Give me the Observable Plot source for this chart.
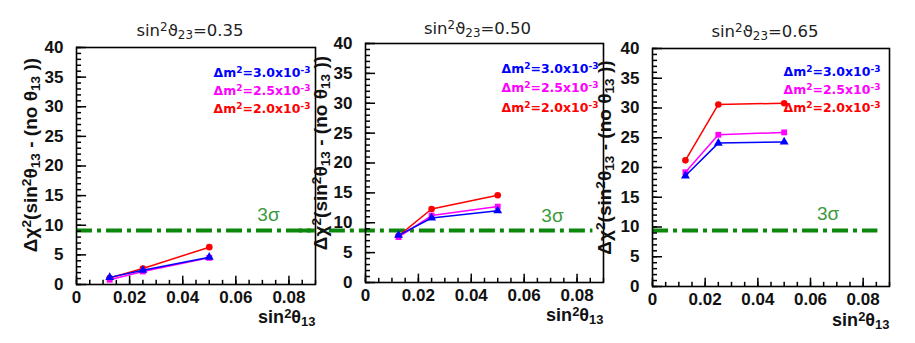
<!DOCTYPE html>
<html><head><meta charset="utf-8">
<script src="https://cdn.jsdelivr.net/npm/d3@7"></script>
<script src="https://cdn.jsdelivr.net/npm/@observablehq/plot@0.6"></script>
<style>
body{margin:0;background:#fff;}
#chart{position:relative;width:915px;height:343px;overflow:hidden;background:#fff;}
#chart > svg{position:absolute;top:0;}
</style></head><body><div id="chart"></div>
<script>
// ---- data ----
const sin2theta13 = [0.0125, 0.025, 0.05];
const panelTitles = ["sin²ϑ₂₃=0.35", "sin²ϑ₂₃=0.50", "sin²ϑ₂₃=0.65"];
const dm2Labels = ["Δm²=3.0x10⁻³", "Δm²=2.5x10⁻³", "Δm²=2.0x10⁻³"];
const chi2_035_dm30 = [1.2, 2.4, 4.6];
const chi2_035_dm25 = [0.8, 2.2, 4.5];
const chi2_035_dm20 = [1.1, 2.7, 6.3];
const chi2_050_dm30 = [7.9, 10.8, 12.0];
const chi2_050_dm25 = [7.6, 11.2, 12.7];
const chi2_050_dm20 = [7.8, 12.3, 14.6];
const chi2_065_dm30 = [18.6, 24.1, 24.3];
const chi2_065_dm25 = [19.2, 25.5, 25.9];
const chi2_065_dm20 = [21.2, 30.6, 30.8];
const threeSigmaLevel = [9.1, 8.7, 9.4];
const threeSigmaLabel = "3σ";
const xTicks = [0, 0.02, 0.04, 0.06, 0.08];
const xTickLabels = ["0", "0.02", "0.04", "0.06", "0.08"];
const yTicks = [0, 5, 10, 15, 20, 25, 30, 35, 40];
const yTickLabels = ["0", "5", "10", "15", "20", "25", "30", "35", "40"];
const xAxisTitle = "sin²θ₁₃";
const yAxisTitle = "Δχ²(sin²θ₁₃ - (no θ₁₃ ))";

// ---- styles / layout ----
const seriesColors = ["#0000ff", "#ff00ff", "#ff0000"];
const seriesSymbols = ["triangle", "square", "circle"];
const green = "#0b870b";
const xMinor = d3.range(0, 0.0901, 0.005);
const yMinor = d3.range(0, 40.01, 1);
const xDomain = [0, 0.09], yDomain = [0, 40];
const H = 343;

const panels = [
  {series: [chi2_035_dm30, chi2_035_dm25, chi2_035_dm20], left: 0, width: 330, mL: 76, mR: 15, mT: 47, mB: 59,
   tDx: -6, tDy: -17, yDx: -46, yDy: -11, lDx: -5, lDy: [25, 43, 61], xDy: 33,
   sx1: 0, sx2: 0.09, sTx: 0.0723, sTy: 11.8},
  {series: [chi2_050_dm30, chi2_050_dm25, chi2_050_dm20], left: 290, width: 330, mL: 75, mR: 17, mT: 43, mB: 61,
   tDx: -7, tDy: -15, yDx: -45, yDy: -10, lDx: -5, lDy: [25, 44, 64], xDy: 33,
   sx1: -0.025, sx2: 0.086, sTx: 0.0707, sTy: 11.2},
  {series: [chi2_065_dm30, chi2_065_dm25, chi2_065_dm20], left: 580, width: 335, mL: 72, mR: 26, mT: 48, mB: 57,
   tDx: -6, tDy: -17, yDx: -48, yDy: -10, lDx: -9, lDy: [23, 41, 59], xDy: 34,
   sx1: 0, sx2: 0.0856, sTx: 0.0667, sTy: 12.2}
];

// turn Unicode super/subscripts into real tspans (text stays text)
const supMap = {"²": "2", "³": "3", "⁻": "-"};
const subMap = {"₁": "1", "₂": "2", "₃": "3"};
function richify(el) {
  const s = el.textContent;
  if (![...s].some(c => c in supMap || c in subMap)) return;
  const runs = [];
  for (const c of s) {
    const k = c in supMap ? "sup" : c in subMap ? "sub" : "n";
    const ch = supMap[c] ?? subMap[c] ?? c;
    if (runs.length && runs[runs.length - 1].k === k) runs[runs.length - 1].t += ch;
    else runs.push({k, t: ch});
  }
  while (el.firstChild) el.removeChild(el.firstChild);
  runs.forEach(r => {
    const ts = document.createElementNS("http://www.w3.org/2000/svg", "tspan");
    ts.textContent = r.t;
    if (r.k !== "n") {
      ts.setAttribute("font-size", "72%");
      ts.setAttribute("baseline-shift", r.k === "sup" ? "40%" : "-22%");
    }
    el.appendChild(ts);
  });
}

const chart = document.getElementById("chart");
panels.forEach((p, pi) => {
  const marks = [];
  // 3 sigma line + label
  marks.push(Plot.ruleY([threeSigmaLevel[pi]], {y: d => d, x1: () => p.sx1, x2: () => p.sx2,
    stroke: green, strokeWidth: 4, strokeDasharray: "16,5,4,5"}));
  marks.push(Plot.text([threeSigmaLabel], {x: () => p.sTx, y: () => p.sTy, text: d => d, fill: "#3c9a3c",
    fontSize: 19, fontWeight: "normal", fontFamily: "Liberation Sans, Arial, sans-serif"}));
  // series: draw red, magenta, blue (blue on top)
  [2, 1, 0].forEach(si => {
    const rows = sin2theta13.map((x, i) => ({x, y: p.series[si][i]}));
    marks.push(Plot.line(rows, {x: "x", y: "y", stroke: seriesColors[si], strokeWidth: 1.5}));
    marks.push(Plot.dot(rows, {x: "x", y: "y", fill: seriesColors[si], stroke: "none",
      symbol: seriesSymbols[si], r: 3.3}));
  });
  // inward ticks
  marks.push(Plot.ruleY(yMinor, {y: d => d, x1: () => 0, x2: () => 0.0019, stroke: "#000", strokeWidth: 1.5}));
  marks.push(Plot.ruleY(yTicks, {y: d => d, x1: () => 0, x2: () => 0.0038, stroke: "#000", strokeWidth: 1.5}));
  marks.push(Plot.ruleX(xMinor, {x: d => d, y1: () => 0, y2: () => 0.7, stroke: "#000", strokeWidth: 1.5}));
  marks.push(Plot.ruleX(xTicks, {x: d => d, y1: () => 0, y2: () => 1.4, stroke: "#000", strokeWidth: 1.5}));
  // frame
  marks.push(Plot.frame({stroke: "#000", strokeWidth: 1.6}));
  // tick labels
  marks.push(Plot.axisY({ticks: yTicks, tickSize: 0, tickPadding: 13, label: null,
    tickFormat: d => yTickLabels[yTicks.indexOf(d)], fontSize: 17, fontWeight: "bold"}));
  marks.push(Plot.axisX({ticks: xTicks, tickSize: 0, tickPadding: 6, label: null,
    tickFormat: d => xTickLabels[xTicks.indexOf(d)], fontSize: 17, fontWeight: "bold"}));
  // titles
  marks.push(Plot.text([panelTitles[pi]], {frameAnchor: "top", text: d => d, dx: p.tDx, dy: p.tDy,
    lineAnchor: "middle", fontSize: 16.5, fontWeight: "normal", fontFamily: "DejaVu Sans, sans-serif", fill: "#222"}));
  marks.push(Plot.text([xAxisTitle], {frameAnchor: "bottom-right", text: d => d, dy: p.xDy, textAnchor: "end",
    lineAnchor: "middle", fontSize: 18, fontWeight: "bold"}));
  marks.push(Plot.text([yAxisTitle], {frameAnchor: "left", text: d => d, rotate: -90, dx: p.yDx, dy: p.yDy,
    textAnchor: "middle", lineAnchor: "middle", fontSize: 19, fontWeight: "bold"}));
  // legend
  dm2Labels.forEach((lab, li) => {
    marks.push(Plot.text([lab], {frameAnchor: "top-right", text: d => d, dx: p.lDx, dy: p.lDy[li],
      textAnchor: "end", lineAnchor: "middle", fill: seriesColors[li], fontSize: 12.5, fontWeight: "bold",
      fontFamily: "DejaVu Sans, sans-serif"}));
  });

  const svg = Plot.plot({
    width: p.width, height: H,
    marginLeft: p.mL, marginRight: p.mR, marginTop: p.mT, marginBottom: p.mB,
    x: {domain: xDomain},
    y: {domain: yDomain},
    style: {background: "transparent", overflow: "visible", fontFamily: "Liberation Sans, Arial, sans-serif",
      fontSize: "17px", color: "#111"},
    marks
  });
  svg.querySelectorAll("text").forEach(richify);
  svg.style.left = p.left + "px";
  chart.appendChild(svg);
});
</script></body></html>
